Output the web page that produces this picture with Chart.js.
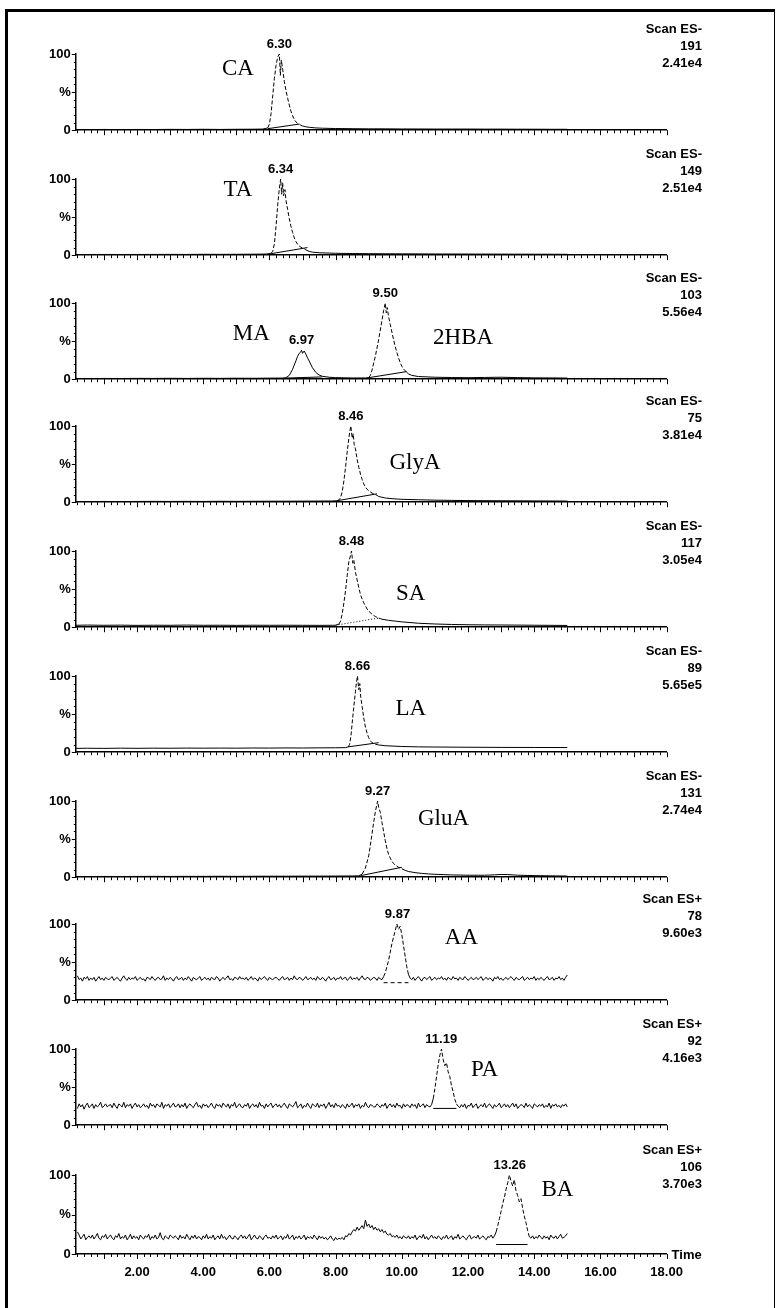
<!DOCTYPE html>
<html>
<head>
<meta charset="utf-8">
<script src="https://cdn.jsdelivr.net/npm/chart.js@4.4.1/dist/chart.umd.min.js"></script>
<style>
  html, body { margin: 0; padding: 0; background: #fff; }
  #page { position: relative; width: 776px; height: 1308px; overflow: hidden; }
  #frame { position: absolute; left: 5px; top: 9px; width: 766px; height: 1320px;
           border-left: 3px solid #000; border-top: 3px solid #000; border-right: 1px solid #000; }
  canvas { position: absolute; left: 0; }
</style>
</head>
<body>
<div id="page"><div id="frame"></div></div>
<script>
// smooth traces: [time (min), intensity (%)]
const caTrace = [[0.15,1],[0.5,0.8],[1,1],[1.5,0.8],[2,1],[2.5,0.9],[3,1.1],[3.5,1],[4,1.2],[4.5,1],[5,1.2],[5.5,1.3],[5.8,1.5],[5.95,3],[6.0,8],[6.05,22],[6.1,45],[6.15,68],[6.2,85],[6.25,96],[6.3,100],[6.33,72],[6.36,92],[6.4,80],[6.45,64],[6.5,52],[6.55,42],[6.6,33],[6.65,25],[6.7,19],[6.75,14],[6.8,11],[6.85,9],[6.9,8],[6.95,6.5],[7.0,5.5],[7.1,4.5],[7.2,3.8],[7.4,3],[7.6,2.6],[8.0,2.2],[8.5,2],[9,1.8],[9.5,1.8],[10,1.6],[10.5,1.6],[11,1.5],[11.5,1.5],[12,1.5],[12.5,1.4],[13,1.4],[13.5,1.3],[14,1.3],[14.5,1.2],[15,1.2]];
const taTrace = [[0.15,0.8],[0.5,0.9],[1,1],[1.5,0.9],[2,1],[2.5,1],[3,1.1],[3.5,1],[4,1.2],[4.5,1.1],[5,1.2],[5.5,1.3],[5.9,1.5],[6.05,2.5],[6.1,5],[6.15,15],[6.2,38],[6.25,66],[6.3,88],[6.34,100],[6.37,80],[6.4,95],[6.43,78],[6.47,86],[6.5,72],[6.55,60],[6.6,48],[6.65,38],[6.7,30],[6.75,23],[6.8,18],[6.85,14.5],[6.9,12],[6.95,10.5],[7.0,9.5],[7.05,8.5],[7.1,7],[7.2,5],[7.3,4],[7.5,3.2],[8,2.5],[8.5,2.2],[9,2],[9.5,1.9],[10,1.8],[11,1.6],[12,1.5],[13,1.4],[14,1.3],[15,1.2]];
const mahbaTrace = [[0.15,1],[0.5,0.8],[1,1],[1.5,0.9],[2,1.1],[2.5,1],[3,1.2],[3.5,1],[4,1.2],[4.5,1.1],[5,1.3],[5.5,1.2],[6,1.4],[6.4,1.5],[6.5,2],[6.6,5],[6.7,13],[6.8,24],[6.85,30],[6.9,34],[6.95,36],[6.97,38],[7.0,34],[7.05,37],[7.1,33],[7.15,28],[7.2,24],[7.3,15],[7.4,9],[7.5,5.5],[7.6,3.8],[7.8,2.6],[8.0,2.1],[8.5,1.6],[8.9,1.6],[9.0,2.2],[9.05,5],[9.1,12],[9.2,30],[9.3,52],[9.4,77],[9.45,90],[9.5,100],[9.53,87],[9.56,94],[9.6,82],[9.65,72],[9.7,62],[9.75,52],[9.8,43],[9.85,35],[9.9,28],[9.95,22],[10.0,17],[10.05,13.5],[10.1,11],[10.15,9],[10.2,7],[10.3,5],[10.5,3.5],[11,2.6],[11.5,2.2],[12,2],[12.5,2.3],[13,2.6],[13.5,2.1],[14,1.8],[15,1.5]];
const glyaTrace = [[0.15,1],[0.5,0.8],[1,1],[1.5,0.8],[2,1],[2.5,1.1],[3,1],[3.5,1.1],[4,1],[4.5,1.2],[5,1.1],[5.5,1.2],[6,1.3],[6.5,1.3],[7,1.4],[7.5,1.5],[7.9,1.6],[8.05,2],[8.1,3],[8.15,6],[8.2,14],[8.25,28],[8.3,46],[8.35,66],[8.4,84],[8.43,93],[8.46,100],[8.5,84],[8.53,90],[8.56,76],[8.6,70],[8.65,56],[8.7,46],[8.75,37],[8.8,30],[8.85,24],[8.9,20],[8.95,17],[9.0,15],[9.05,13.5],[9.1,12],[9.2,10],[9.25,9],[9.3,7.5],[9.5,5.5],[9.8,4.3],[10,3.8],[10.5,3.2],[11,2.7],[11.5,2.4],[12,2.1],[13,1.9],[14,1.7],[15,1.5]];
const saTrace = [[0.15,2.5],[0.5,2.8],[1,2.5],[1.5,2.7],[2,2.4],[2.5,2.6],[3,2.5],[3.5,2.8],[4,2.5],[4.5,2.6],[5,2.4],[5.5,2.6],[6,2.5],[6.5,2.6],[7,2.5],[7.5,2.4],[7.9,2.5],[8.0,2.6],[8.1,4],[8.15,8],[8.2,18],[8.25,32],[8.3,48],[8.35,68],[8.4,86],[8.45,94],[8.48,100],[8.52,84],[8.55,88],[8.6,72],[8.65,62],[8.7,52],[8.75,43],[8.8,37],[8.85,32],[8.9,28],[8.95,24],[9.0,21],[9.1,17],[9.2,14],[9.3,12],[9.4,10.5],[9.6,9],[9.8,8],[10,7],[10.5,5.2],[11,4.2],[11.5,3.6],[12,3.2],[12.5,3],[13,2.9],[14,2.6],[15,2.3]];
const laTrace = [[0.15,5],[0.5,5.2],[1,5],[1.5,5.3],[2,5.1],[2.5,5.3],[3,5.2],[3.5,5.4],[4,5.3],[4.5,5.4],[5,5.3],[5.5,5.5],[6,5.4],[6.5,5.6],[7,5.5],[7.5,5.7],[8,5.8],[8.3,6],[8.38,7],[8.42,10],[8.46,20],[8.5,38],[8.55,60],[8.6,80],[8.63,92],[8.66,100],[8.7,82],[8.73,90],[8.76,72],[8.8,60],[8.85,45],[8.9,33],[8.95,25],[9.0,19],[9.05,15],[9.1,12.5],[9.2,10.5],[9.3,9.5],[9.5,8.5],[10,7.5],[10.5,7],[11,6.8],[12,6.5],[13,6.3],[14,6.2],[15,6.1]];
const gluaTrace = [[0.15,1],[0.5,0.8],[1,1],[1.5,0.9],[2,1],[2.5,1.1],[3,1],[3.5,1.1],[4,1.1],[4.5,1.2],[5,1.1],[5.5,1.2],[6,1.3],[6.5,1.3],[7,1.4],[7.5,1.4],[8,1.5],[8.5,1.6],[8.7,1.8],[8.8,4],[8.9,12],[9.0,28],[9.05,42],[9.1,57],[9.15,72],[9.2,86],[9.27,100],[9.3,92],[9.35,85],[9.4,72],[9.45,60],[9.5,48],[9.55,38],[9.6,30],[9.65,25],[9.7,21],[9.75,18],[9.8,16],[9.9,13],[10.0,11],[10.1,9],[10.2,7.5],[10.4,6],[10.6,5],[10.8,4.3],[11,3.8],[11.5,3],[12,2.6],[12.5,2.6],[12.8,3.1],[13.0,3.6],[13.2,3.5],[13.5,2.6],[14,2.1],[14.5,1.8],[15,1.5]];

// noisy traces: one value per scan, scans every 0.05 min from 0.2 to 15.0 (one row = 1 min)
const scanStart = 0.2, scanStep = 0.05;
const aaVals = [
  32,27,29,25,30,28,31,26,29,27,30,25,28,31,27,29,26,30,28,27,
  29,31,26,28,30,27,25,29,32,28,26,30,27,29,28,31,26,28,30,27,
  28,25,30,29,27,31,28,26,29,30,27,28,32,26,29,27,30,28,25,29,
  31,27,28,30,26,29,27,31,28,25,30,28,27,29,31,26,28,30,27,29,
  26,30,28,27,31,29,25,28,30,27,29,32,27,28,26,30,29,27,31,28,
  29,27,30,26,28,31,27,29,28,25,30,27,29,31,28,26,30,28,27,29,
  30,28,26,29,31,27,28,30,26,29,27,32,28,27,30,29,26,28,31,27,
  28,30,27,29,26,31,28,27,30,28,25,29,31,27,28,30,26,29,28,31,
  27,29,30,26,28,31,27,29,28,30,26,29,32,28,27,30,29,26,28,30,
  29,26,30,28,27,31,36,44,52,63,74,83,91,100,93,97,86,72,58,44,
  34,29,27,30,26,29,31,28,25,29,30,27,29,31,26,28,30,27,29,28,
  31,27,29,26,30,28,27,31,28,29,26,30,28,27,31,29,26,28,30,27,
  28,30,27,29,31,26,28,30,27,29,28,25,30,28,31,27,29,26,28,30,
  27,29,31,28,26,30,28,27,29,31,26,28,30,27,29,28,31,26,29,27,
  30,28,26,29,31,27,28,30,26,29,28,31,27,29,26,30,33];
const paVals = [
  22,28,24,27,21,26,29,23,25,28,22,27,24,26,30,23,25,28,24,26,
  27,23,29,25,22,28,26,24,30,23,27,25,28,22,26,29,24,27,23,25,
  28,24,26,22,29,25,27,23,28,26,24,30,22,27,25,28,23,26,29,24,
  25,28,23,27,24,29,22,26,28,25,23,27,30,24,26,22,28,25,27,23,
  26,29,24,22,28,25,27,23,29,26,24,28,22,27,25,30,23,26,28,24,
  23,27,25,29,22,26,28,24,27,23,30,25,26,22,28,24,27,29,23,26,
  28,24,27,23,26,29,25,22,28,26,24,27,31,23,25,28,22,26,24,29,
  25,22,28,26,24,29,23,27,25,28,22,26,30,24,27,23,29,25,26,23,
  27,25,22,28,24,26,29,23,27,25,28,22,26,24,30,25,23,27,26,24,
  24,28,26,23,27,25,29,22,26,28,24,27,23,29,25,26,22,28,24,27,
  26,23,28,25,27,22,29,24,26,28,23,27,25,24,27,35,48,64,80,92,
  100,86,78,82,70,64,52,44,34,28,25,23,27,24,28,22,26,25,29,23,
  26,28,22,25,27,24,29,23,26,28,25,22,27,24,26,29,23,25,28,24,
  27,23,26,29,24,28,22,25,27,26,23,29,24,27,25,22,28,26,24,27,
  25,28,23,26,24,29,22,27,25,28,24,26,23,27,25,28,24];
const baVals = [
  28,24,19,22,25,18,21,23,20,24,19,22,26,20,18,23,21,25,19,22,
  24,20,18,23,21,26,19,22,20,24,18,21,25,19,23,20,22,18,24,21,
  19,23,21,25,18,22,20,24,19,21,27,20,18,23,21,19,24,22,20,23,
  21,18,24,20,22,19,25,21,18,23,20,24,19,22,21,18,23,20,25,19,
  22,20,24,18,21,23,19,25,20,22,18,21,24,20,19,23,21,18,22,24,
  20,23,19,22,25,18,21,24,20,19,23,21,18,22,24,20,21,19,23,20,
  24,19,21,23,18,22,20,25,19,21,24,18,22,20,23,19,21,24,18,22,
  20,22,19,24,21,18,23,20,22,19,21,18,20,23,19,17,21,18,20,19,
  21,18,23,22,26,24,28,31,29,34,30,33,36,32,43,35,38,33,36,31,
  34,30,32,28,31,27,29,25,24,26,22,23,21,24,20,22,19,23,21,20,
  23,19,22,20,24,18,21,23,20,25,19,22,18,21,24,20,22,19,23,21,
  18,22,20,24,19,21,23,18,22,20,25,19,21,23,20,18,22,24,19,21,
  22,20,24,19,21,23,20,18,22,21,24,20,23,28,36,45,54,64,72,82,
  90,100,92,86,94,80,74,66,70,58,48,40,30,22,20,23,19,22,20,24,
  21,19,23,20,22,18,24,21,20,23,19,22,25,20,21,23,26];

// integrated peaks: [start, end] of the dashed peak trace, and drawn baselines [[t,%],[t,%]]
const peakSpans = [[5.95,6.95],[6.05,7.1],[9.0,10.15],[8.05,9.25],[8.1,9.3],[8.38,9.3],[8.75,10.0],[9.45,10.2],[10.95,11.65],[12.85,13.85]];
const peakBases = [
  [[[5.95,2],[6.9,8]]],
  [[[6.05,2],[7.15,10]]],
  [[[6.5,1.5],[7.6,3]], [[9.0,2],[10.15,10]]],
  [[[8.05,2],[9.25,11]]],
  [[[8.0,2.6],[9.3,12]]],
  [[[8.38,7],[9.3,12.5]]],
  [[[8.75,2],[10.0,13]]],
  [[[9.45,23],[10.2,23]]],
  [[[10.95,22],[11.65,22]]],
  [[[12.85,12],[13.8,12]]]
];
// retention time labels: [time, apex %]
const peakLabels = [[[6.30,100]],[[6.34,100]],[[6.97,38],[9.50,100]],[[8.46,100]],[[8.48,100]],[[8.66,100]],[[9.27,100]],[[9.87,100]],[[11.19,100]],[[13.26,100]]];
const compounds = [['CA'],['TA'],['MA','2HBA'],['GlyA'],['SA'],['LA'],['GluA'],['AA'],['PA'],['BA']];
const scanModes = ['Scan ES-','Scan ES-','Scan ES-','Scan ES-','Scan ES-','Scan ES-','Scan ES-','Scan ES+','Scan ES+','Scan ES+'];
const masses = ['191','149','103','75','117','89','131','78','92','106'];
const intensities = ['2.41e4','2.51e4','5.56e4','3.81e4','3.05e4','5.65e5','2.74e4','9.60e3','4.16e3','3.70e3'];
const timeTicks = [2,4,6,8,10,12,14,16,18];

// layout
const panelZero = [133, 258, 382, 505, 630, 755, 880, 1003, 1128, 1254];
const nameAt = [[[5.05,80]],[[5.05,86]],[[5.45,60],[11.85,54]],[[10.4,52]],[[10.27,43]],[[10.27,57]],[[11.26,76]],[[11.8,82]],[[12.5,73]],[[14.7,81]]];
const SANS = "'Liberation Sans', Arial, sans-serif";
const SERIF = "'Liberation Serif', 'Times New Roman', serif";

const toScans = vals => vals.map((v, i) => [+(scanStart + scanStep * i).toFixed(2), v]);
const traces = [caTrace, taTrace, mahbaTrace, glyaTrace, saTrace, laTrace, gluaTrace,
  toScans(aaVals), toScans(paVals), toScans(baVals)];

function chromPlugin(i, last) {
  return {
    id: 'chrom' + i,
    afterDraw(chart) {
      const { ctx, chartArea: a, scales: { x, y } } = chart;
      ctx.save();
      ctx.strokeStyle = '#000';
      ctx.lineWidth = 1;
      ctx.beginPath();
      for (let k = 1; k <= 90; k++) {
        const px = Math.round(x.getPixelForValue(k * 0.2)) + 0.5;
        const len = k % 5 === 0 ? 5 : 3;
        ctx.moveTo(px, a.bottom);
        ctx.lineTo(px, a.bottom + len);
      }
      for (let v = 0; v <= 100; v += 10) {
        const py = Math.round(y.getPixelForValue(v)) + 0.5;
        const len = v % 50 === 0 ? 4 : 2;
        ctx.moveTo(a.left - len, py);
        ctx.lineTo(a.left, py);
      }
      ctx.stroke();

      ctx.fillStyle = '#000';
      ctx.font = 'bold 13px ' + SANS;
      ctx.textAlign = 'right';
      ctx.textBaseline = 'middle';
      ctx.fillText(scanModes[i], 702, a.top - 25);
      ctx.fillText(masses[i], 702, a.top - 8);
      ctx.fillText(intensities[i], 702, a.top + 9);

      ctx.textAlign = 'center';
      ctx.textBaseline = 'bottom';
      peakLabels[i].forEach(([t, h]) => {
        ctx.fillText(t.toFixed(2), x.getPixelForValue(t), y.getPixelForValue(h) - 3);
      });

      if (last) {
        ctx.textAlign = 'left';
        ctx.textBaseline = 'middle';
        ctx.fillText('Time', a.right + 5, a.bottom + 1);
      }

      ctx.font = '23px ' + SERIF;
      ctx.textAlign = 'center';
      ctx.textBaseline = 'middle';
      compounds[i].forEach((name, j) => {
        const [t, v] = nameAt[i][j];
        ctx.fillText(name, x.getPixelForValue(t), y.getPixelForValue(v));
      });
      ctx.restore();
    }
  };
}

const page = document.getElementById('page');
const TOP = 34, BELOW = 10, LAST_BELOW = 47;
const AREA_LEFT = 75.8, AREA_RIGHT = 666.6;

traces.forEach((trace, i) => {
  const last = i === traces.length - 1;
  const below = last ? LAST_BELOW : BELOW;
  const cv = document.createElement('canvas');
  cv.width = 776;
  cv.height = TOP + 79 + below;
  cv.style.top = (panelZero[i] - 79 - TOP) + 'px';
  page.appendChild(cv);

  const [d0, d1] = peakSpans[i];
  const datasets = [{
    data: trace.map(([t, v]) => ({ x: t, y: v })),
    borderColor: '#000', borderWidth: 1, pointRadius: 0, tension: 0,
    segment: {
      borderDash: c => (c.p0.parsed.x >= d0 - 1e-6 && c.p1.parsed.x <= d1 + 1e-6) ? [4, 2] : undefined
    }
  }];
  peakBases[i].forEach(b => datasets.push({
    data: b.map(([t, v]) => ({ x: t, y: v })),
    borderColor: '#000', borderWidth: 1, pointRadius: 0,
    borderDash: i === 7 ? [4, 3] : (i === 4 ? [1, 2] : [])
  }));

  new Chart(cv, {
    type: 'line',
    data: { datasets },
    options: {
      responsive: false, animation: false, events: [],
      layout: { padding: { top: TOP, left: 0, right: 776 - AREA_RIGHT, bottom: 0 } },
      plugins: { legend: { display: false }, tooltip: { enabled: false } },
      scales: {
        x: {
          type: 'linear', min: 0.15, max: 18,
          grid: { display: true, drawOnChartArea: false, drawTicks: false },
          border: { color: '#000', width: 1.5 },
          afterBuildTicks: s => { s.ticks = timeTicks.map(v => ({ value: v })); },
          afterFit: s => { s.height = below; },
          ticks: {
            display: last, padding: 11, color: '#000', autoSkip: false, maxRotation: 0,
            font: { family: SANS, size: 13, weight: 'bold' },
            callback: v => Number(v).toFixed(2)
          }
        },
        y: {
          min: 0, max: 100,
          grid: { display: true, drawOnChartArea: false, drawTicks: false },
          border: { color: '#000', width: 1.5 },
          afterBuildTicks: s => { s.ticks = [{ value: 0 }, { value: 50 }, { value: 100 }]; },
          afterFit: s => { s.width = AREA_LEFT; },
          ticks: {
            padding: 5, color: '#000',
            font: { family: SANS, size: 13, weight: 'bold' },
            callback: v => v === 50 ? '%' : String(v)
          }
        }
      }
    },
    plugins: [chromPlugin(i, last)]
  });
});
</script>
</body>
</html>
